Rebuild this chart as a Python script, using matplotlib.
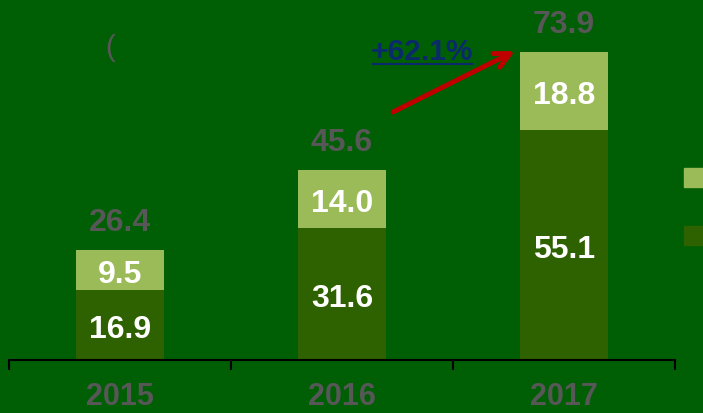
import matplotlib
matplotlib.use("Agg")
import matplotlib.pyplot as plt
from matplotlib.patches import Rectangle

years = ["2015", "2016", "2017"]
base = [16.9, 31.6, 55.1]
top = [9.5, 14.0, 18.8]
totals = [26.4, 45.6, 73.9]
growth_label = "+62.1%"

BG = "#005f04"
DARK = "#2e6100"
LIGHT = "#9bbb59"
GREY = "#575757"

plt.rcParams["font.family"] = ["Liberation Sans", "DejaVu Sans"]

fig = plt.figure(figsize=(7.03, 4.14), dpi=100, facecolor=BG)
ax = fig.add_axes([9 / 703, 53 / 414, 666 / 703, 361 / 414])
ax.set_facecolor(BG)

x = list(range(len(years)))
ax.bar(x, base, width=0.4, color=DARK)
ax.bar(x, top, width=0.4, bottom=base, color=LIGHT)

for i in x:
    ax.annotate(f"{base[i]:.1f}", (i, base[i] / 2), xytext=(0, -3),
                textcoords="offset points", ha="center", va="center",
                color="white", fontsize=23, fontweight="bold")
    ax.annotate(f"{top[i]:.1f}", (i, base[i] + top[i] / 2), xytext=(0, -3),
                textcoords="offset points", ha="center", va="center",
                color="white", fontsize=23, fontweight="bold")
    ax.annotate(f"{totals[i]:.1f}", (i, totals[i]), xytext=(0, 20),
                textcoords="offset points", ha="center", va="center",
                color=GREY, fontsize=23, fontweight="bold")

ax.set_xlim(-0.5, 2.5)
ax.set_ylim(0, 86.6)

for s in ["top", "right", "left"]:
    ax.spines[s].set_visible(False)
ax.spines["bottom"].set_color("black")
ax.spines["bottom"].set_linewidth(1.5)
ax.set_yticks([])
ax.set_xticks(x)
ax.set_xticklabels(years, color=GREY, fontsize=22, fontweight="bold")
ax.tick_params(axis="x", which="major", length=0, pad=15)
ax.set_xticks([-0.5, 0.5, 1.5, 2.5], minor=True)
ax.tick_params(axis="x", which="minor", length=7, width=1.5, color="black",
               direction="out")

# growth arrow between 2016 and 2017
ax.annotate("", xy=(1.779, 74.1), xytext=(1.23, 59.5),
            arrowprops=dict(arrowstyle="->,head_length=1.1,head_width=0.55",
                            color="#c00000", lw=3.5, shrinkA=0, shrinkB=0))
ax.text(1.36, 74.1, growth_label, ha="center", va="center", color="#0b2a6b",
        fontsize=21.5, fontweight="bold")
ax.plot([1.14, 1.586], [71.0, 71.0], color="#0b2a6b", lw=1.5)

fig.text(110 / 703, 1 - 48 / 414, "(", color=GREY, fontsize=21,
         ha="center", va="center")

# legend swatches (labels fall outside the canvas)
fig.patches.append(Rectangle((684 / 703, 1 - 188 / 414), 30 / 703, 19 / 414,
                             transform=fig.transFigure, color=LIGHT))
fig.patches.append(Rectangle((684 / 703, 1 - 246 / 414), 30 / 703, 19 / 414,
                             transform=fig.transFigure, color=DARK))

fig.savefig("out.png", dpi=100, facecolor=BG)
